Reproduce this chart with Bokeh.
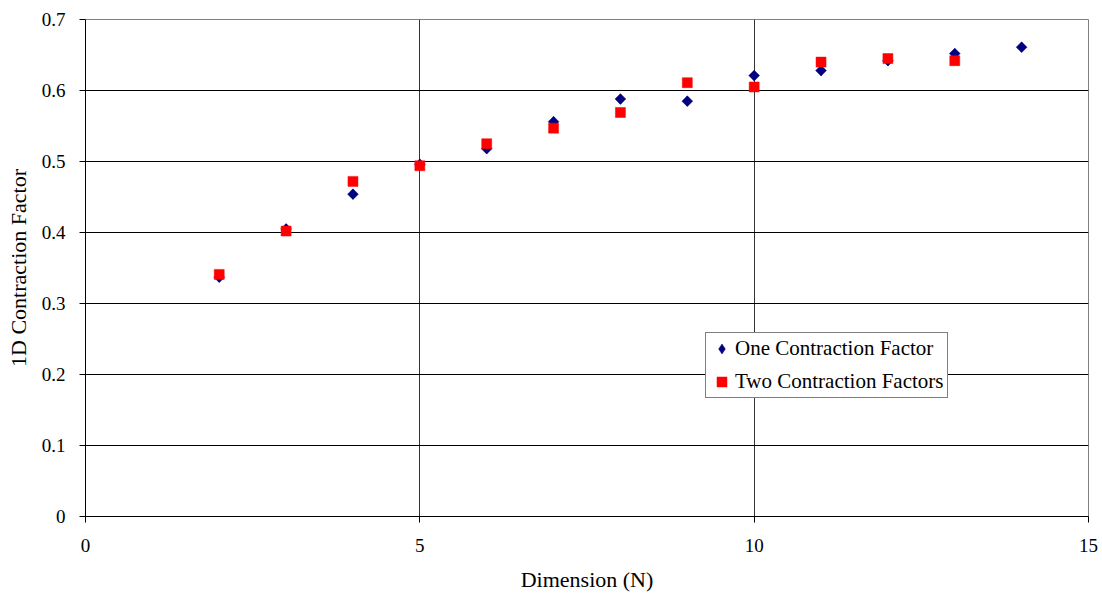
import math
from bokeh.plotting import figure
from bokeh.models import ColumnDataSource, FixedTicker, Legend, LegendItem, Range1d
from bokeh.embed import file_html
from bokeh.resources import INLINE

dims_one = [2, 3, 4, 5, 6, 7, 8, 9, 10, 11, 12, 13, 14]
one_factor = [0.337, 0.405, 0.454, 0.496, 0.518, 0.556, 0.588, 0.585, 0.621, 0.628, 0.642, 0.652, 0.661]
dims_two = [2, 3, 4, 5, 6, 7, 8, 9, 10, 11, 12, 13]
two_factors = [0.341, 0.402, 0.472, 0.494, 0.525, 0.547, 0.569, 0.611, 0.605, 0.640, 0.645, 0.642]
x_ticks = [0, 5, 10, 15]
y_ticks = [0, 0.1, 0.2, 0.3, 0.4, 0.5, 0.6, 0.7]

FONT = "Liberation Serif"

p = figure(width=1102, height=598, output_backend="svg", toolbar_location=None,
           x_range=Range1d(0, 15), y_range=Range1d(0, 0.7),
           frame_width=1003, frame_height=497,
           min_border_left=85, min_border_right=14, min_border_top=19, min_border_bottom=82)
p.background_fill_color = "white"
p.border_fill_color = "white"
p.outline_line_color = "#808080"
p.outline_line_width = 1

src1 = ColumnDataSource(dict(x=dims_one, y=one_factor))
src2 = ColumnDataSource(dict(x=dims_two, y=two_factors))

# diamond glyph (hidden under the rotated squares) used for the legend symbol
r1_leg = p.scatter("x", "y", source=src1, marker="diamond", size=10,
                   fill_color="#000080", line_color="#000080", line_width=0.5)
r1 = p.scatter("x", "y", source=src1, marker="square", size=7.6, angle=math.pi / 4,
               fill_color="#000080", line_color="#000080", line_width=0.5)
r2 = p.scatter("x", "y", source=src2, marker="square", size=10,
               fill_color="#FF0000", line_color="#FF0000", line_width=0.5)

p.xaxis.ticker = FixedTicker(ticks=x_ticks)
p.yaxis.ticker = FixedTicker(ticks=y_ticks)
p.xaxis.minor_tick_line_color = None
p.yaxis.minor_tick_line_color = None
for ax in (p.xaxis, p.yaxis):
    ax.axis_line_color = "black"
    ax.major_tick_line_color = "black"
    ax.major_tick_out = 6
    ax.major_tick_in = 0
    ax.major_label_text_font = FONT
    ax.major_label_text_font_size = "19px"
    ax.major_label_text_color = "black"
    ax.axis_label_text_font = FONT
    ax.axis_label_text_font_size = "22px"
    ax.axis_label_text_font_style = "normal"
    ax.axis_label_text_color = "black"
p.xaxis.major_label_standoff = 16
p.yaxis.major_label_standoff = 14
p.xaxis.axis_label = "Dimension (N)"
p.yaxis.axis_label = "1D Contraction Factor"
p.xaxis.axis_label_standoff = 12
p.yaxis.axis_label_standoff = 8

p.xgrid.grid_line_color = "black"
p.xgrid.grid_line_alpha = 0.8
p.ygrid.grid_line_color = "black"
p.xgrid.ticker = FixedTicker(ticks=[5, 10])

legend = Legend(items=[LegendItem(label="One Contraction Factor", renderers=[r1_leg]),
                       LegendItem(label="Two Contraction Factors", renderers=[r2])],
                location=(620, 118))
legend.label_text_font = FONT
legend.label_text_font_size = "21px"
legend.label_text_color = "black"
legend.border_line_color = "black"
legend.border_line_width = 1
legend.background_fill_color = "white"
legend.background_fill_alpha = 1
legend.glyph_width = 25
legend.glyph_height = 25
legend.label_standoff = 1
legend.padding = 3
legend.spacing = 8
legend.margin = 0
p.add_layout(legend, "center")

open("out.html", "w").write(file_html(p, INLINE))
